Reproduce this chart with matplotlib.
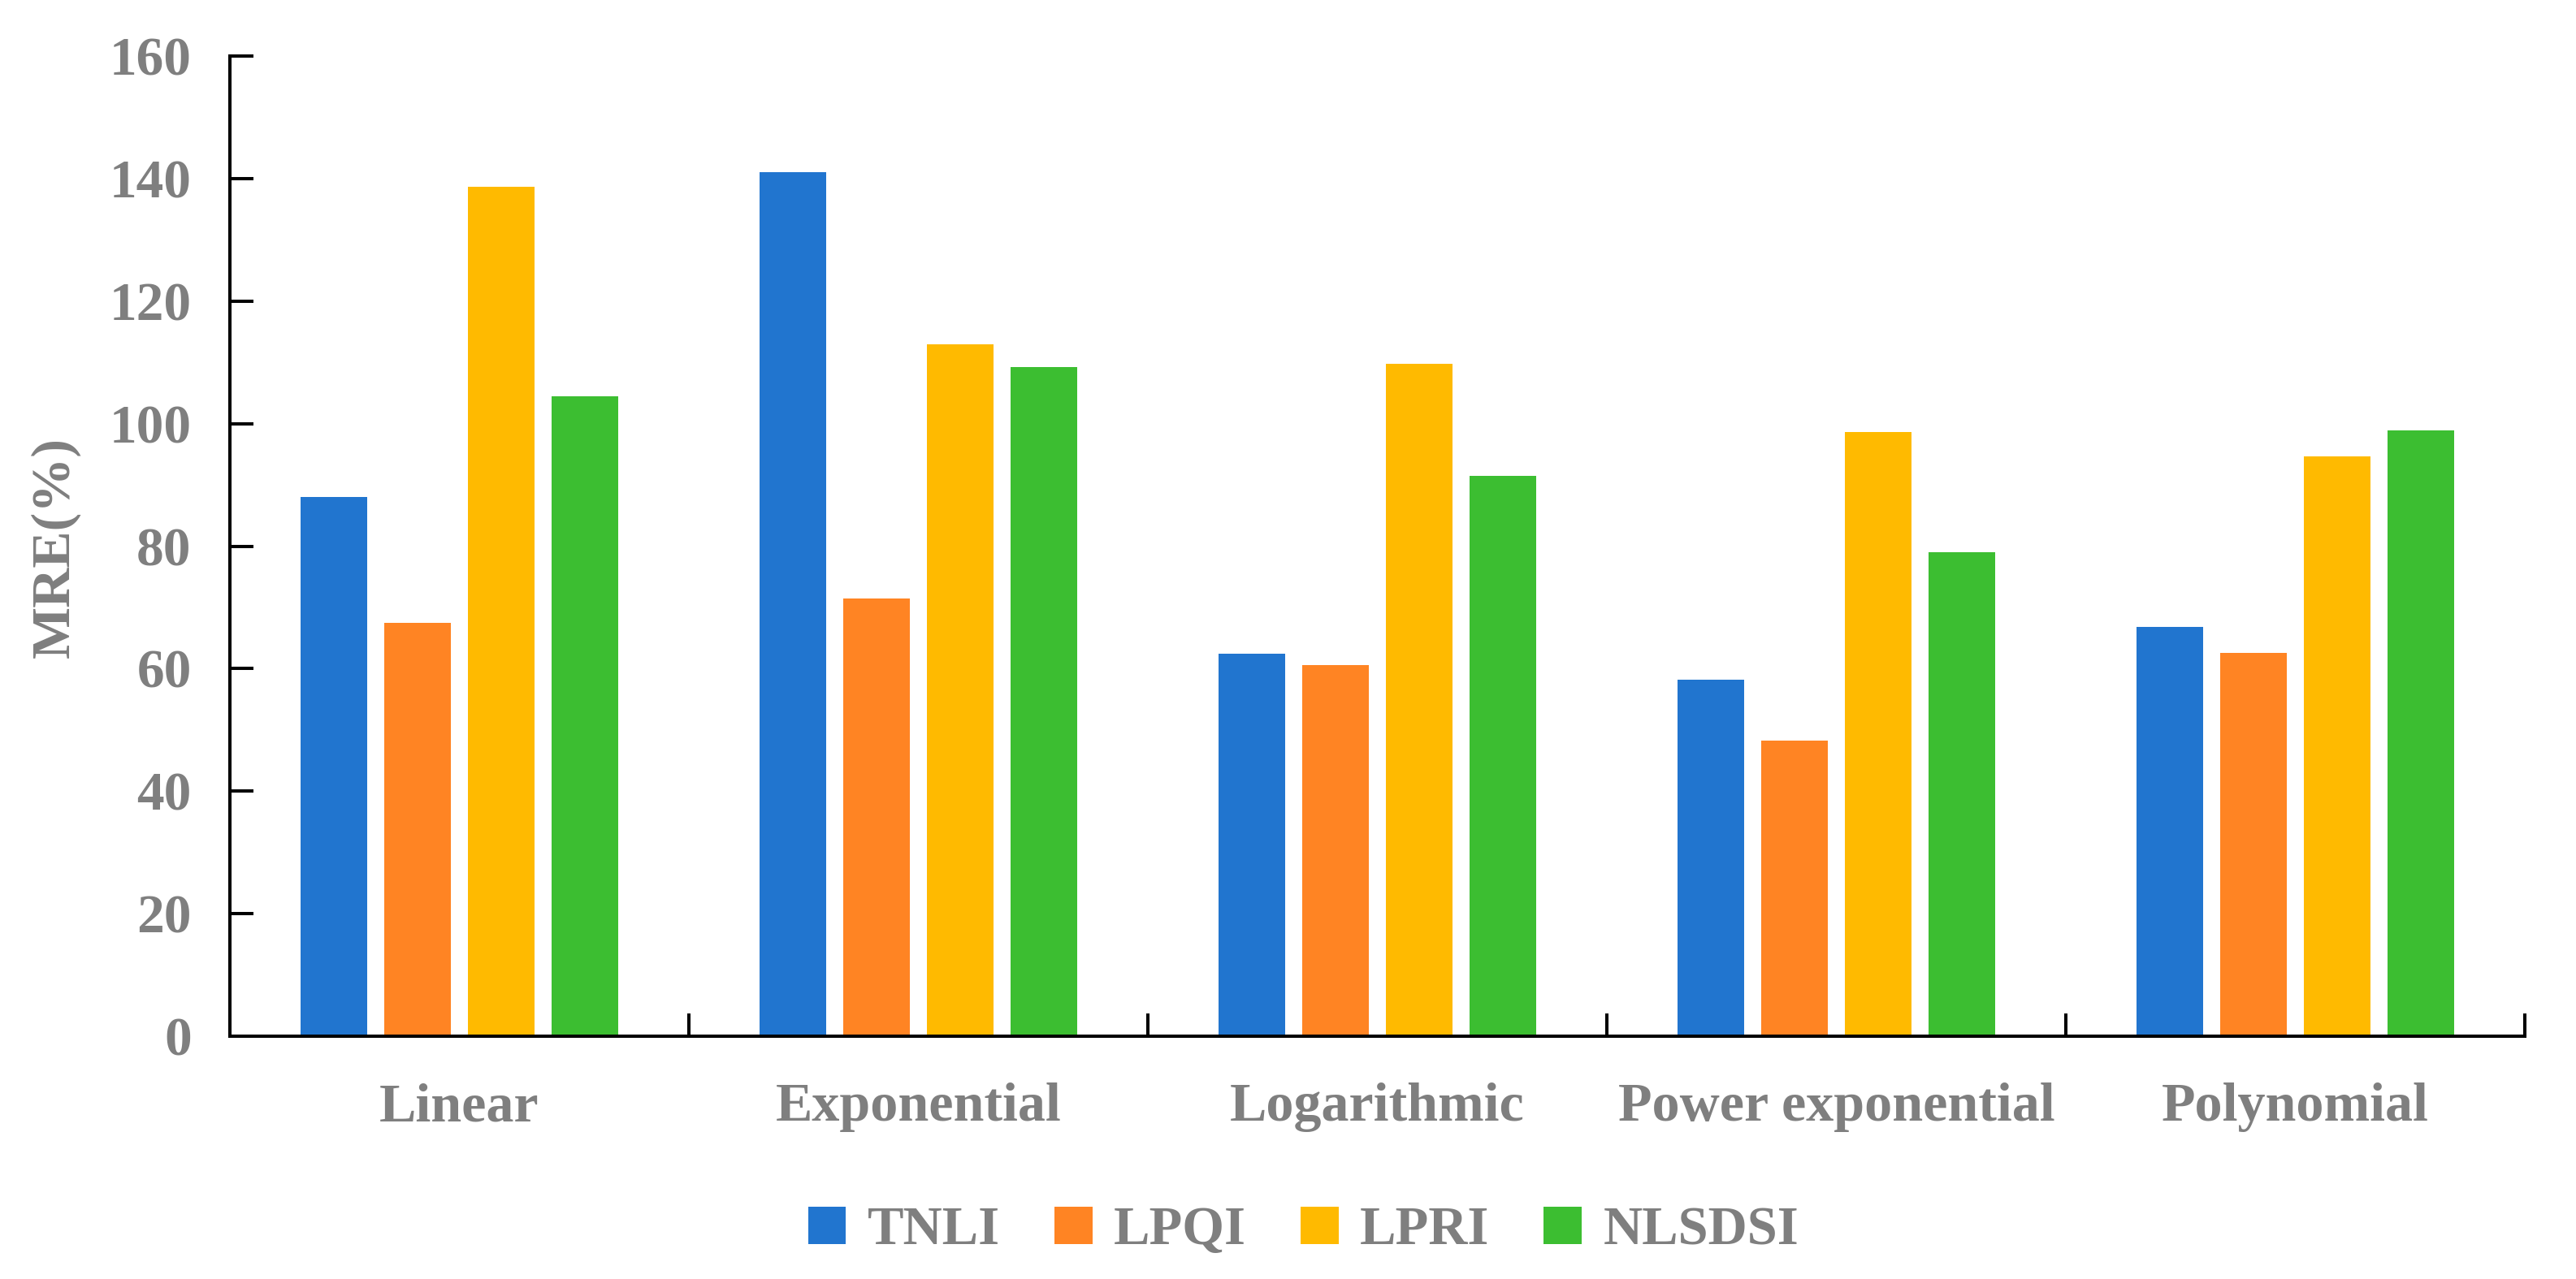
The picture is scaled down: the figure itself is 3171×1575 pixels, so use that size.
import numpy as np
import matplotlib.pyplot as plt
from matplotlib.ticker import FixedLocator

plt.rcParams['font.family'] = ['Liberation Serif', 'DejaVu Serif']
plt.rcParams['font.weight'] = 'bold'

categories = ['Linear', 'Exponential', 'Logarithmic', 'Power exponential', 'Polynomial']
methods = ['TNLI', 'LPQI', 'LPRI', 'NLSDSI']
tnli = [88.0, 141.1, 62.4, 58.2, 66.8]
lpqi = [67.5, 71.4, 60.6, 48.3, 62.6]
lpri = [138.6, 112.9, 109.7, 98.6, 94.6]
nlsdsi = [104.5, 109.2, 91.5, 79.0, 98.9]
colors = ['#2175CF', '#FF8423', '#FFBA00', '#3CBE31']

gray = '#7f7f7f'
fig = plt.figure(figsize=(31.71, 15.75), dpi=100)
ax = fig.add_axes([0.0892, 0.1898, 0.8909, 0.7664])

x = np.arange(len(categories))
w = 0.145
step = 0.1825
for i, (vals, name) in enumerate(zip([tnli, lpqi, lpri, nlsdsi], methods)):
    ax.bar(x + (i - 1.5) * step, vals, w, color=colors[i], label=name)

ax.set_xlim(-0.5, 4.5)
ax.set_ylim(0, 160)
ax.set_yticks(np.arange(0, 161, 20))
ax.set_xticks(x)
ax.set_xticklabels(categories)
ax.xaxis.set_minor_locator(FixedLocator(np.arange(-0.5, 4.6, 1)))

for s in ['top', 'right']:
    ax.spines[s].set_visible(False)
for s in ['left', 'bottom']:
    ax.spines[s].set_linewidth(2.9)
    ax.spines[s].set_color('black')

ax.tick_params(axis='y', direction='in', length=21, width=2.9, pad=34,
               labelsize=48.5, labelcolor=gray)
ax.tick_params(axis='x', which='major', length=0, pad=41,
               labelsize=49, labelcolor=gray)
ax.tick_params(axis='x', which='minor', direction='in', length=20, width=2.9)
for lab in ax.get_xticklabels() + ax.get_yticklabels():
    lab.set_fontweight('bold')

fig.text(68 / 3171, 1 - 674 / 1575, 'MRE(%)', rotation=90, ha='center', va='center',
         fontsize=49, fontweight='bold', color=gray)

leg = fig.legend(loc='center', bbox_to_anchor=(0.506, 0.0375), ncol=4, frameon=False,
                 fontsize=48, handlelength=0.7, handleheight=0.7,
                 handletextpad=0.4, columnspacing=1.0)
for t in leg.get_texts():
    t.set_color(gray)
    t.set_fontweight('bold')

fig.savefig('out.png', dpi=100)
